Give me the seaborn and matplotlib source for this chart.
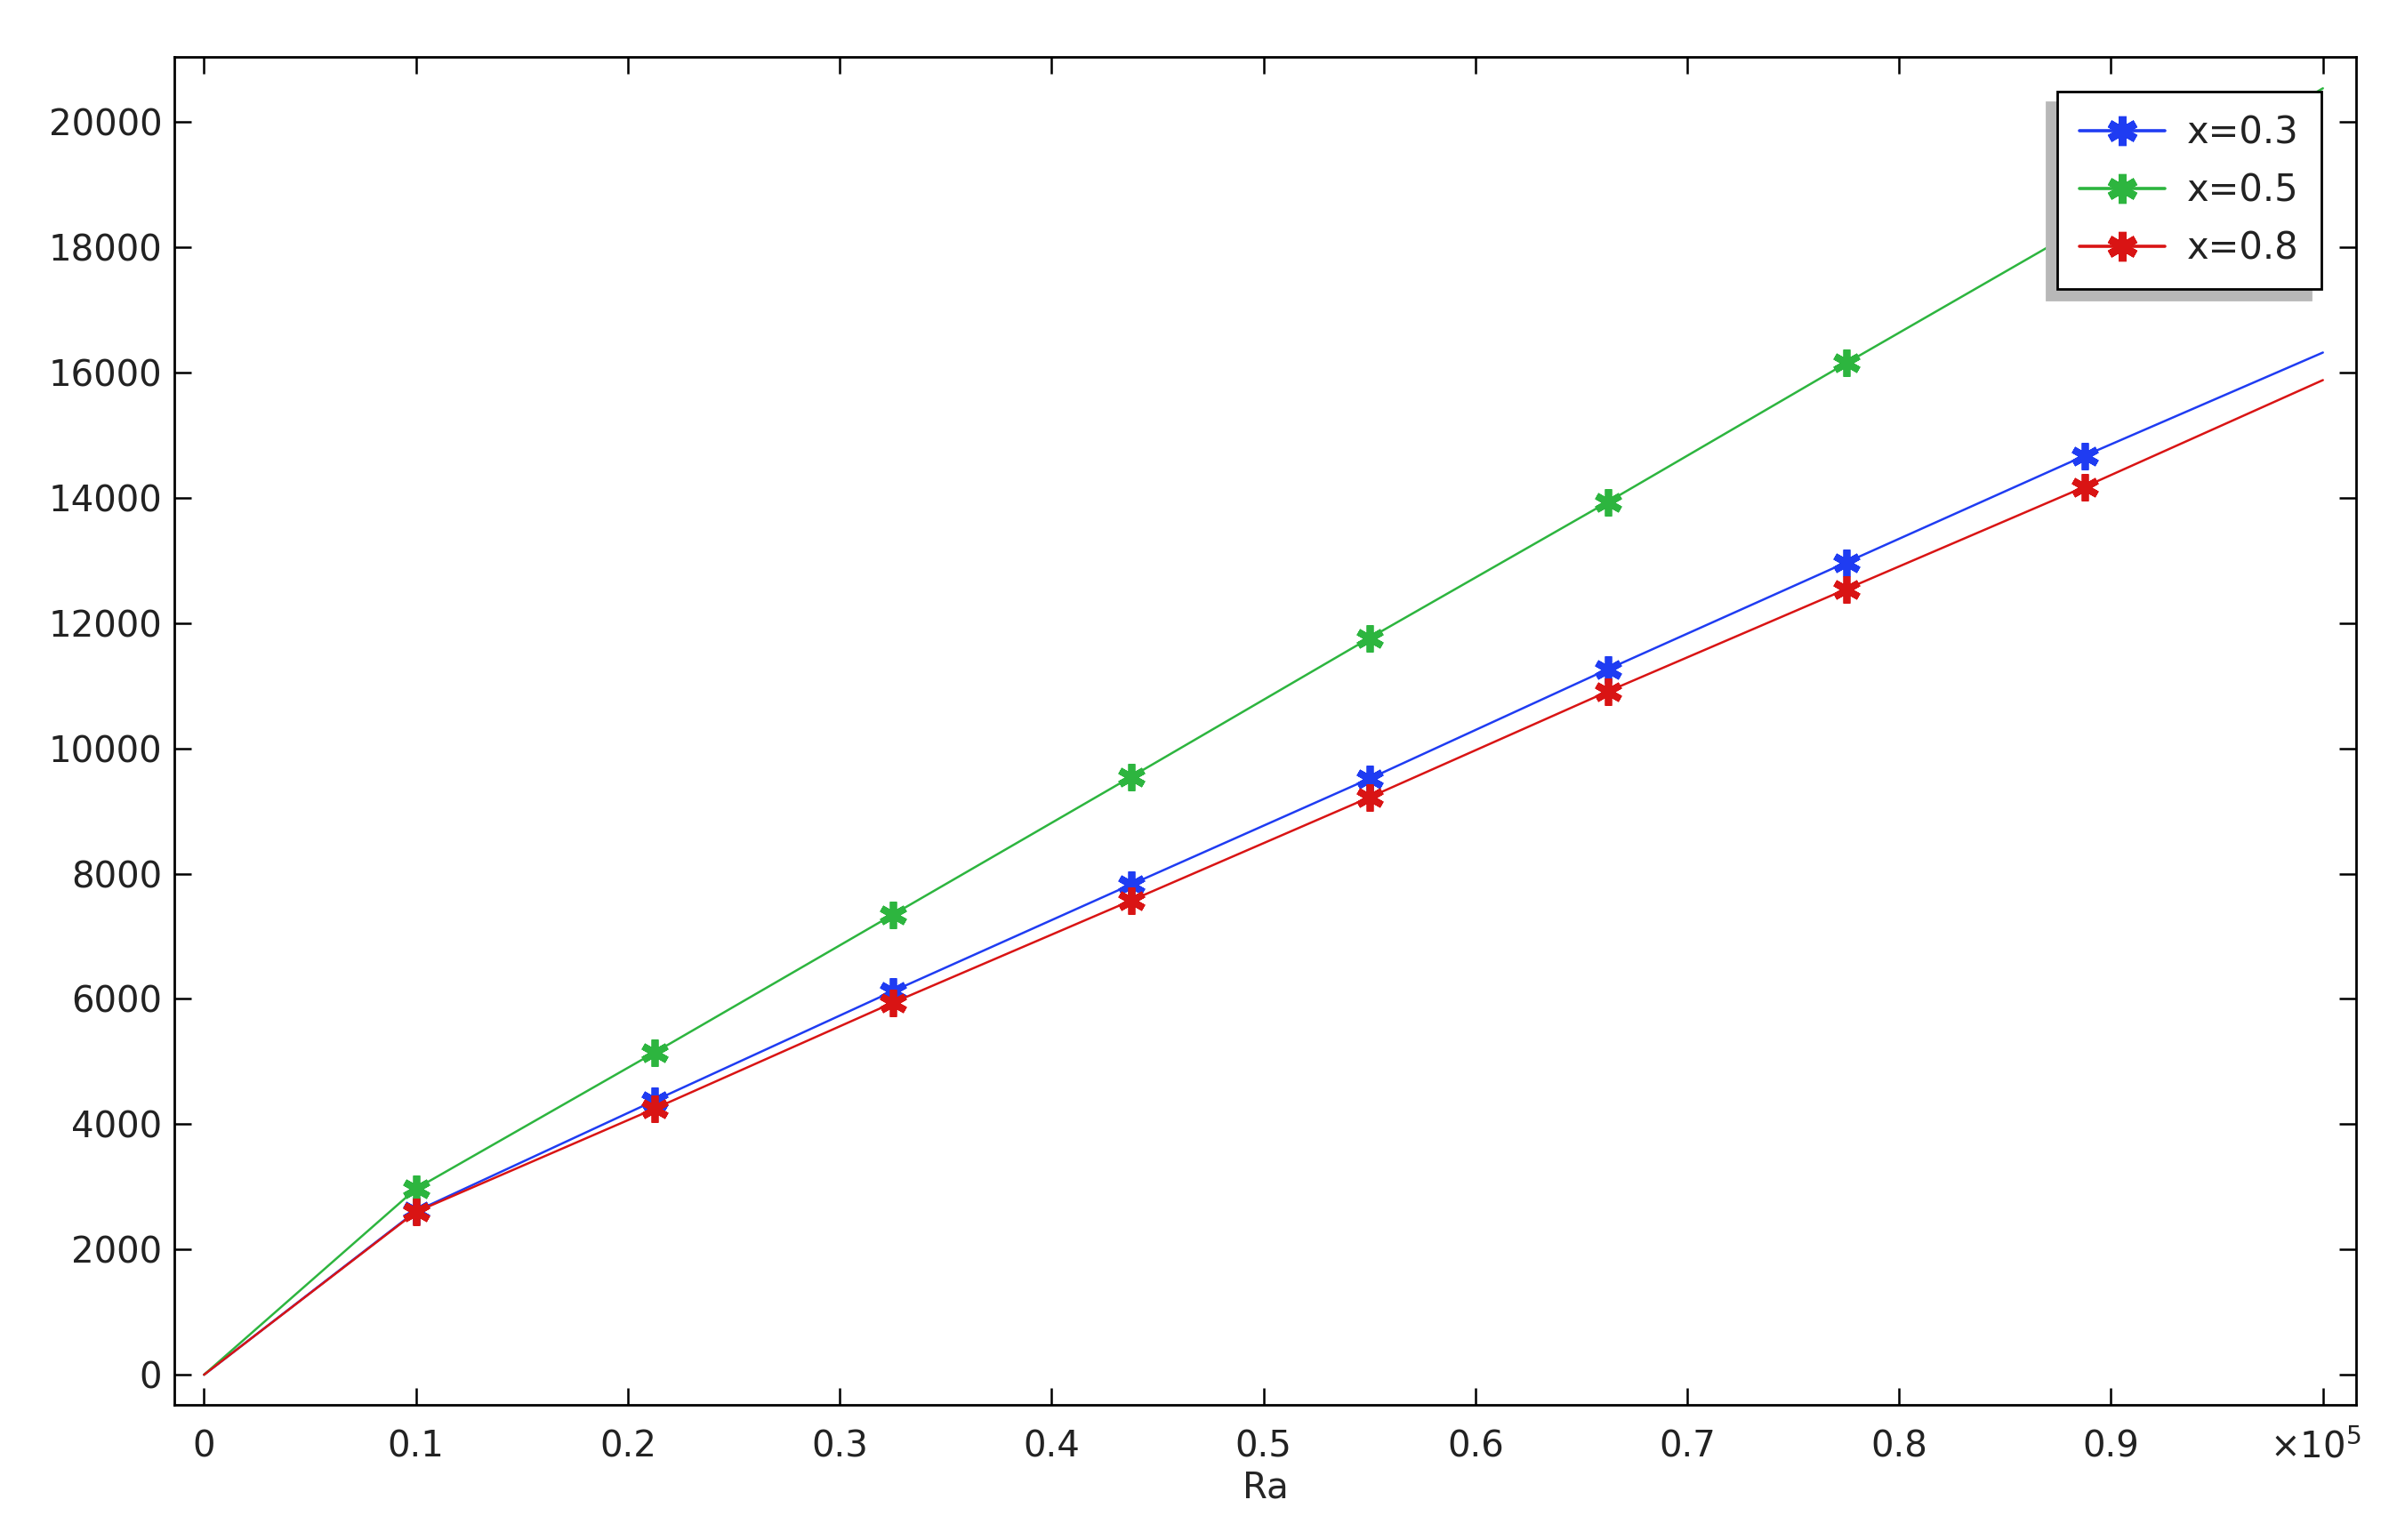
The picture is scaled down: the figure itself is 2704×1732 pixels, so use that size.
import numpy as np
import pandas as pd
import matplotlib
matplotlib.use('Agg')
import matplotlib.pyplot as plt
from matplotlib.lines import Line2D
from matplotlib.ticker import FuncFormatter, MultipleLocator
import seaborn as sns

# Values
ra = [0, 10000, 21250, 32500, 43750, 55000, 66250, 77500, 88750, 100000]
nu_x03 = [0, 2610, 4375, 6122, 7827, 9517, 11264, 12969, 14673, 16321]
nu_x05 = [0, 2969, 5142, 7344, 9545, 11761, 13935, 16151, 18340, 20540]
nu_x08 = [0, 2599, 4247, 5938, 7571, 9219, 10909, 12543, 14176, 15881]
series_labels = ['x=0.3', 'x=0.5', 'x=0.8']
series_colors = ['#1f3cf2', '#2db53f', '#d91414']


def main():
    sns.set_style('ticks')
    plt.rcParams['font.family'] = ['DejaVu Sans']
    plt.rcParams['text.color'] = '#222222'
    plt.rcParams['xtick.color'] = 'black'
    plt.rcParams['ytick.color'] = 'black'
    plt.rcParams['xtick.labelcolor'] = '#222222'
    plt.rcParams['ytick.labelcolor'] = '#222222'

    df = pd.DataFrame({
        'Ra': ra * 3,
        'value': nu_x03 + nu_x05 + nu_x08,
        'series': np.repeat(series_labels, len(ra)),
    })

    fig = plt.figure(figsize=(13.52, 8.66), dpi=200)
    ax = fig.add_axes([0.0725, 0.0878, 0.9072, 0.8752])

    star = (6, 2, 0)
    for label, color in zip(series_labels, series_colors):
        sub = df[df['series'] == label]
        sns.lineplot(data=sub, x='Ra', y='value', ax=ax, color=color,
                     linewidth=0.9, marker=star, markersize=11,
                     markeredgewidth=2.8, markeredgecolor=color,
                     markevery=list(range(1, 9)), legend=False)

    ax.set_xlim(-1400, 101570)
    ax.set_ylim(-480, 21040)
    ax.xaxis.set_major_locator(MultipleLocator(10000))
    ax.yaxis.set_major_locator(MultipleLocator(2000))
    ax.xaxis.set_major_formatter(
        FuncFormatter(lambda v, p: '' if v > 95000 else f'{v / 1e5:g}'))
    ax.yaxis.set_major_formatter(FuncFormatter(lambda v, p: f'{v:.0f}'))

    ax.tick_params(axis='both', which='both', direction='in', length=7,
                   width=0.9, top=True, right=True, labelsize=14.5)
    ax.tick_params(axis='x', pad=10)
    ax.tick_params(axis='y', pad=5)
    for s in ax.spines.values():
        s.set_linewidth(1.0)
        s.set_color('black')

    ax.set_xlabel('Ra', fontsize=14.5, labelpad=2)
    ax.set_ylabel('')

    ax.annotate(r'$\times10^{5}$', xy=(1, 0), xycoords='axes fraction',
                xytext=(2, -21.5), textcoords='offset points',
                ha='right', va='baseline', fontsize=14.5)

    handles = [Line2D([], [], color=c, linewidth=1.3, marker=star,
                      markersize=12, markeredgewidth=3.2, markeredgecolor=c)
               for c in series_colors]
    leg = ax.legend(handles, series_labels, loc='upper right',
                    bbox_to_anchor=(0.984, 0.974), borderaxespad=0,
                    fontsize=15, frameon=True, fancybox=False,
                    handlelength=2.3, handletextpad=0.6, labelspacing=0.55,
                    borderpad=0.6,
                    shadow={'ox': -4.3, 'oy': -4.3, 'alpha': 1,
                            'facecolor': '#b8b8b8', 'edgecolor': '#b8b8b8'})
    leg.get_frame().set_edgecolor('black')
    leg.get_frame().set_linewidth(1.0)
    leg.get_frame().set_alpha(1)

    fig.savefig('out.png', dpi=200)


if __name__ == "__main__":
    main()
